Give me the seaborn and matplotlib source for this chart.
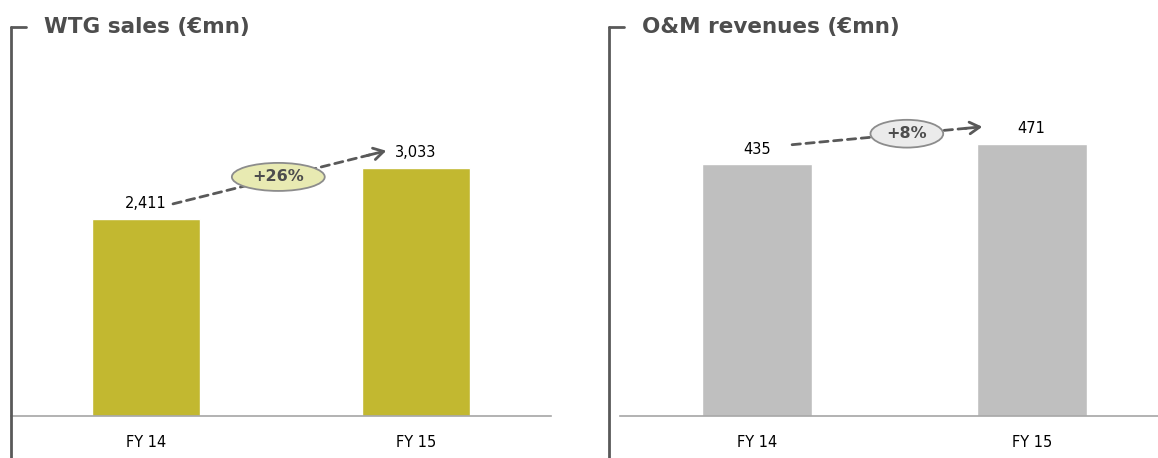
import matplotlib
matplotlib.use("Agg")
import matplotlib.pyplot as plt
import seaborn as sns
import pandas as pd
from matplotlib.lines import Line2D
from matplotlib.patches import Ellipse

# dados
anos = ["FY 14", "FY 15"]
wtg_vendas = [2411, 3033]
om_receitas = [435, 471]
titulos = ["WTG sales (€mn)", "O&M revenues (€mn)"]
crescimento = ["+26%", "+8%"]

sns.set_theme(style="white")
plt.rcParams["font.family"] = ["DejaVu Sans"]

W, H = 1158, 458
fig = plt.figure(figsize=(W / 100, H / 100), dpi=100)

cinza_txt = "#4d4d4d"


def fx(px):
    return px / W


def fy(py):
    return 1 - py / H


def painel(x0, x1, xmax, bx, valores, ymax, cor, titulo, taxa, elipse_cor,
           seta, elipse):
    ax = fig.add_axes([fx(x0), fy(416), fx(x1 - x0), fy(40) - fy(416)])
    df = pd.DataFrame({"ano": anos, "valor": valores})
    sns.barplot(data=df, x="ano", y="valor", color=cor, width=0.4,
                saturation=1, ax=ax)
    ax.set_xlim(-0.5, xmax)
    ax.set_ylim(0, ymax)
    ax.set_xlabel("")
    ax.set_ylabel("")
    ax.set_yticks([])
    for s in ["top", "left", "right"]:
        ax.spines[s].set_visible(False)
    ax.spines["bottom"].set_color("#a6a6a6")
    ax.spines["bottom"].set_linewidth(1.2)
    ax.tick_params(axis="x", length=0, pad=14, labelsize=10.5, labelcolor="black")
    for i, v in enumerate(valores):
        ax.annotate(f"{v:,}", (i, v), xytext=(0, 11), textcoords="offset points",
                    ha="center", va="center", fontsize=10.5, color="black")
    # seta tracejada
    (sx, sy), (ex, ey) = seta
    hx = ex - (ex - sx) * 0.06
    hy = ey - (ey - sy) * 0.06
    ax.annotate("", xy=(hx, hy), xytext=(sx, sy),
                arrowprops=dict(arrowstyle="-", linestyle=(0, (3, 2)), lw=2,
                                color="#595959", shrinkA=0, shrinkB=0), zorder=3)
    ax.annotate("", xy=(ex, ey), xytext=(hx - (ex - sx) * 0.03, hy - (ey - sy) * 0.03),
                arrowprops=dict(arrowstyle="->,head_length=0.6,head_width=0.35",
                                lw=2, color="#595959", shrinkA=0, shrinkB=0),
                zorder=3)
    (cx, cy, ew, eh) = elipse
    ax.add_patch(Ellipse((cx, cy), ew, eh, facecolor=elipse_cor,
                         edgecolor="#8c8c8c", lw=1.3, zorder=4))
    ax.text(cx, cy, taxa, ha="center", va="center", fontsize=11.5,
            fontweight="bold", color=cinza_txt, zorder=5)
    # colchete e título
    fig.add_artist(Line2D([fx(bx), fx(bx)], [fy(27), 0], color="#595959", lw=2))
    fig.add_artist(Line2D([fx(bx), fx(bx + 15)], [fy(27), fy(27)],
                          color="#595959", lw=2))
    fig.text(fx(bx + 33), fy(27), titulo, ha="left", va="center",
             fontsize=15.5, fontweight="bold", color=cinza_txt)
    return ax


painel(11, 551, 1.5, 11, wtg_vendas, 4600, "#c2b830", titulos[0], crescimento[0],
       "#e8eab2", ((0.1, 2595), (0.89, 3245)), (0.49, 2925, 0.344, 343))
painel(620, 1158, 1.46, 609, om_receitas, 650, "#bfbfbf", titulos[1], crescimento[1],
       "#ebebeb", ((0.127, 469), (0.82, 500)), (0.545, 488, 0.265, 48))

fig.savefig("out.png", dpi=100)
